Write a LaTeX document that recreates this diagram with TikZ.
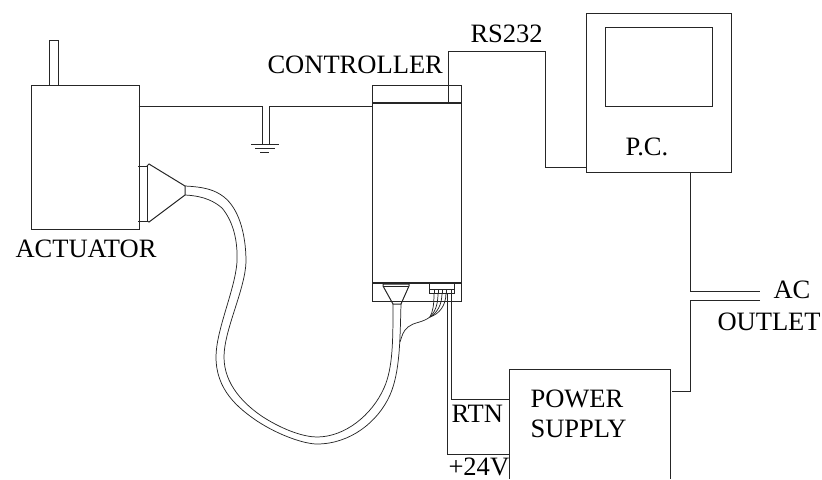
\documentclass[tikz,border=0pt]{standalone}
\usepackage{fontspec}
\setmainfont{Liberation Serif}
\begin{document}
\begin{tikzpicture}[x=0.75pt,y=-0.75pt,line width=0.75pt,line join=miter,
  box/.style={draw,rectangle,inner sep=0pt,anchor=north west,black!85},
  wire/.style={draw,black!85},
  heavy/.style={draw,line width=1.3pt,black!85},
  thin wire/.style={draw,line width=0.55pt,black!85},
  lbl/.style={anchor=base west,inner sep=0pt,font=\fontsize{19.9pt}{22pt}\selectfont}]
\useasboundingbox (0,0) rectangle (822,479);
% boxes
\node[box,minimum width=107.5*0.75pt,minimum height=144*0.75pt] (act) at (31,85) {};
\node[box,minimum width=9.5*0.75pt,minimum height=45*0.75pt] (shaft) at (48.5,40) {};
\node[box,minimum width=89*0.75pt,minimum height=216*0.75pt] (ctrl) at (372,85) {};
\node[box,minimum width=145*0.75pt,minimum height=159*0.75pt] (pc) at (586,13) {};
\node[box,minimum width=107*0.75pt,minimum height=79*0.75pt] (screen) at (605,27) {};
\node[box,minimum width=25*0.75pt,minimum height=10*0.75pt] (pins) at (429,283) {};
% controller bands
\coordinate (bandTL) at (372,103); \coordinate (bandTR) at (461,103);
\coordinate (bandBL) at (372,283); \coordinate (bandBR) at (461,283);
\draw[heavy] (bandTL) -- (bandTR);
\draw[heavy] (bandBL) -- (bandBR);
% power supply (runs off the bottom)
\coordinate (psBL) at (509,479); \coordinate (psTL) at (509,369);
\coordinate (psTR) at (670,369); \coordinate (psBR) at (670,479);
\draw[wire] (psBL) -- (psTL) -- (psTR) -- (psBR);
% ground wires
\coordinate (gA) at (262,106); \coordinate (gB) at (269,106);
\coordinate (gAb) at (262,144); \coordinate (gBb) at (269,144);
\draw[wire] (138.5,106) -- (gA) -- (gAb);
\draw[wire] (372,106) -- (gB) -- (gBb);
\coordinate (g1a) at (251,144); \coordinate (g1b) at (279,144);
\coordinate (g2a) at (255,148); \coordinate (g2b) at (275,148);
\coordinate (g3a) at (260,152); \coordinate (g3b) at (269,152);
\draw[wire] (g1a) -- (g1b);
\draw[wire] (g2a) -- (g2b);
\draw[wire] (g3a) -- (g3b);
% RS232
\coordinate (rsA) at (448.5,103); \coordinate (rsB) at (448.5,51);
\coordinate (rsC) at (545,51); \coordinate (rsD) at (545,167); \coordinate (rsE) at (586,167);
\draw[wire] (rsA) -- (rsB) -- (rsC) -- (rsD) -- (rsE);
% AC
\coordinate (acA) at (690.5,172); \coordinate (acB) at (690.5,291); \coordinate (acC) at (760,291);
\draw[wire] (acA) -- (acB) -- (acC);
\coordinate (acD) at (760,300); \coordinate (acE) at (690.5,300); \coordinate (acF) at (690.5,391); \coordinate (acG) at (672,391);
\draw[wire] (acD) -- (acE) -- (acF) -- (acG);
% RTN, +24V
\coordinate (rtA) at (451,293); \coordinate (rtB) at (451,399); \coordinate (rtC) at (509,399);
\draw[wire] (rtA) -- (rtB) -- (rtC);
\coordinate (pvA) at (447.5,293); \coordinate (pvB) at (447.5,454); \coordinate (pvC) at (509,454);
\draw[wire] (pvA) -- (pvB) -- (pvC);
% actuator connector
\coordinate (cpA) at (138,166); \coordinate (cpB) at (147,166); \coordinate (cpC) at (147,221); \coordinate (cpD) at (138,221);
\draw[wire] (cpA) -- (cpB) -- (cpC) -- (cpD);
\coordinate (coA) at (149,164); \coordinate (coB) at (185,186); \coordinate (coC) at (185,195); \coordinate (coD) at (149,222);
\draw[wire] (cpB) -- (coA) -- (coB) -- (coC) -- (coD) -- (cpC);
% cable
\draw[thin wire] (coB) .. controls (205,187) and (215,190) .. (224,197)
  .. controls (238,208) and (246,232) .. (246,262)
  .. controls (245,290) and (224,330) .. (224,357)
  .. controls (224,385) and (245,405) .. (263,417)
  .. controls (285,431) and (305,437) .. (317,437)
  .. controls (345,437) and (372,415) .. (384,388)
  .. controls (393,368) and (393,340) .. (393,304);
\draw[thin wire] (coC) .. controls (205,196) and (215,202) .. (222,208)
  .. controls (232,220) and (238,238) .. (237,262)
  .. controls (235,290) and (216,330) .. (216,357)
  .. controls (216,390) and (238,408) .. (257,421)
  .. controls (280,436) and (305,444) .. (317,444)
  .. controls (350,444) and (378,422) .. (390,395)
  .. controls (400,372) and (400,340) .. (401,304);
% controller cone connector
\coordinate (ccA) at (383,284); \coordinate (ccB) at (409,284);
\coordinate (ccC) at (401,304); \coordinate (ccD) at (393,304);
\draw[wire] (ccA) -- (ccB) -- (409,286) -- (ccC) -- (ccD) -- (383,286) -- cycle;
\draw[wire] (383,286) -- (409,286);
% connector pins
\coordinate (pinL) at (429,289); \coordinate (pinR) at (454,289);
\draw[wire] (pinL) -- (pinR);
\foreach \i/\x in {1/434,2/438,3/442,4/446,5/451}
  \draw[thin wire] (\x,289) -- (\x,293);
% fan-out
\coordinate (fan) at (430,317);
\draw[thin wire] (434,293) .. controls (434,305) and (433,311) .. (fan);
\draw[thin wire] (438,293) .. controls (438,305) and (435,312) .. (fan);
\draw[thin wire] (442,293) .. controls (442,305) and (437,313) .. (fan);
\draw[thin wire] (446,293) .. controls (446,306) and (439,314) .. (fan);
\draw[thin wire] (fan) .. controls (422,323) and (414,322) .. (408,327)
  .. controls (403,331) and (402,336) .. (400,342);
% labels
\node[lbl] (tAct) at (15,257) {ACTUATOR};
\node[lbl] (tCtrl) at (267,73) {CONTROLLER};
\node[lbl] (tRs) at (470,42) {RS232};
\node[lbl] (tPc) at (625,155) {P.C.};
\node[lbl] (tAc) at (773,298) {AC};
\node[lbl] (tOut) at (717,330) {OUTLET};
\node[lbl] (tPow) at (530,407) {POWER};
\node[lbl] (tSup) at (530,437) {SUPPLY};
\node[lbl] (tRtn) at (451,422) {RTN};
\node[lbl] (tV) at (448,475) {+24V};
\end{tikzpicture}
\end{document}
